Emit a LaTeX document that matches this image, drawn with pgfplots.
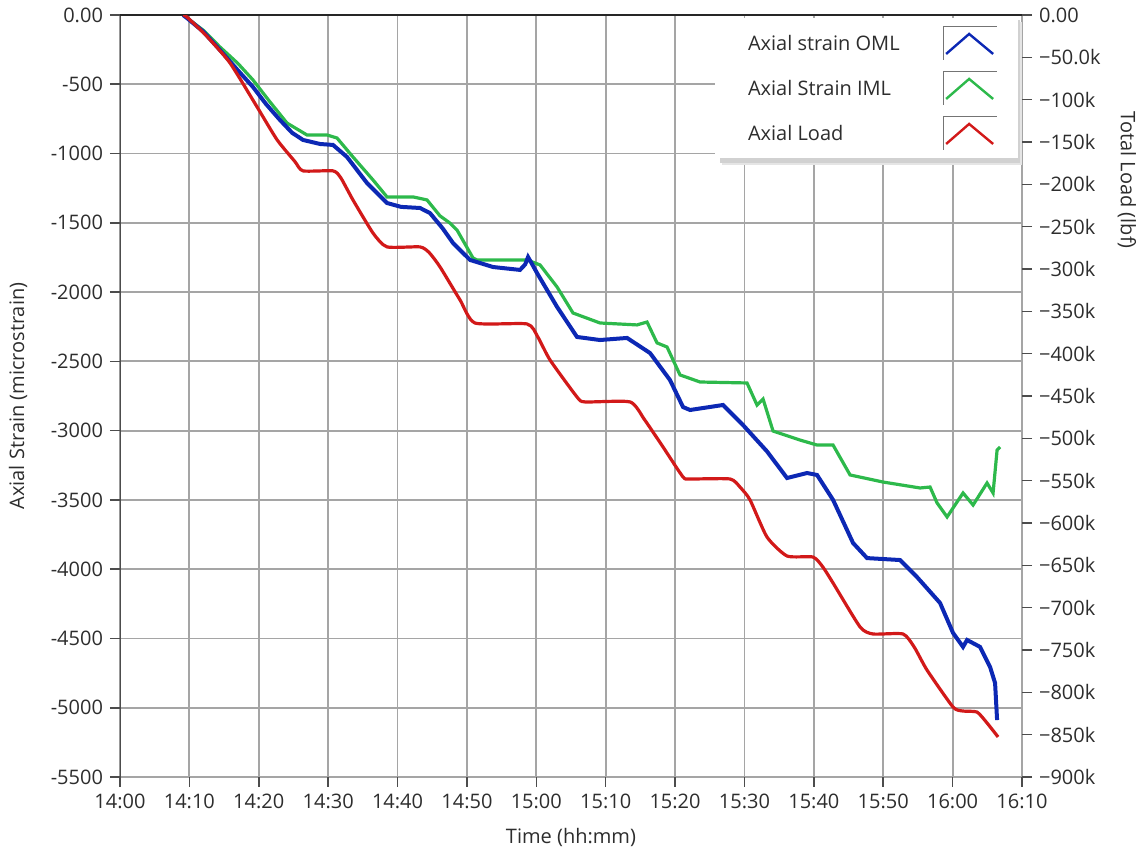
\documentclass[border=0pt]{standalone}
\usepackage{fontspec}
\setmainfont{Open Sans}
\usepackage{pgfplots}
\pgfplotsset{compat=1.18}

\definecolor{cBlue}{RGB}{12,40,180}
\definecolor{cGreen}{RGB}{45,185,75}
\definecolor{cRed}{RGB}{210,25,25}
\definecolor{gridc}{RGB}{165,165,165}
\definecolor{txt}{RGB}{45,45,45}

\pgfplotsset{
  common/.style={
    scale only axis, width=451pt, height=381pt,
    xmin=0, xmax=130,
    tick align=outside, major tick length=5pt,
    tick style={black!70, line width=0.8pt},
    axis line style={draw=none},
    tick label style={font=\fontsize{10}{12}\selectfont, text=txt},
    label style={font=\fontsize{10}{12}\selectfont, text=txt},
    scaled y ticks=false,
  },
  legimg/.style={legend image code/.code={
    \draw[gridc!70!black,line width=0.5pt] (0pt,-8pt) -- (0pt,8.5pt) -- (27pt,8.5pt);
    \draw[##1,line width=1.2pt] (1.5pt,-5pt) -- (13pt,5pt) -- (25pt,-5pt);}}
}

\begin{document}
\begin{tikzpicture}
\begin{axis}[common,
  ymin=-5500, ymax=0,
  tick pos=left,
  xtick={0,10,...,130},
  xticklabels={14:00,14:10,14:20,14:30,14:40,14:50,15:00,15:10,15:20,15:30,15:40,15:50,16:00,16:10},
  ytick={-5500,-5000,...,0},
  yticklabels={-5500,-5000,-4500,-4000,-3500,-3000,-2500,-2000,-1500,-1000,-500,0.00},
  grid=major,
  major grid style={gridc, line width=0.9pt},
  xlabel={Time (hh:mm)},
  xlabel style={at={(axis description cs:0.5,-0.080)}, anchor=center},
  ylabel={Axial Strain (microstrain)},
  ylabel style={at={(axis description cs:-0.113,0.5)}, anchor=center},
]
\coordinate (SW) at (rel axis cs:0,0);
\coordinate (NE) at (rel axis cs:1,1);
\addplot[cGreen, line width=1.6pt] coordinates {
(9.08,0) (12.0,-110) (14.41,-231) (17.0,-350) (19.17,-469) (21.5,-620) (24.07,-780)
(26.95,-866) (29.84,-866) (31.28,-888) (33.58,-1025) (36.47,-1191) (38.48,-1313)
(42.23,-1313) (44.25,-1335) (46.12,-1450) (47.5,-1500) (48.57,-1552) (50.88,-1754)
(51.46,-1768) (58.66,-1768) (60.54,-1804) (62.99,-1963) (65.29,-2151) (69.18,-2223)
(74.51,-2237) (75.96,-2216) (77.40,-2367) (78.84,-2396) (80.71,-2598) (83.60,-2649)
(90.37,-2656) (91.81,-2815) (92.68,-2772) (94.12,-3003) (98.01,-3068) (100.46,-3104)
(102.77,-3104) (105.22,-3320) (109.97,-3371) (115.31,-3414) (116.75,-3407)
(117.76,-3522) (119.20,-3623) (121.50,-3450) (122.95,-3537) (124.96,-3378)
(125.83,-3450) (126.41,-3140) (126.84,-3118)
};
\addplot[cBlue, line width=2pt] coordinates {
(9.08,0) (9.66,-22) (12.0,-120) (14.41,-253) (17.0,-400) (19.17,-520) (21.0,-640)
(23.06,-758) (24.8,-850) (26.38,-902) (28.83,-931) (30.70,-938) (32.72,-1025)
(35.60,-1213) (38.48,-1357) (40.5,-1385) (43.24,-1393) (44.68,-1430) (46.5,-1540)
(48.00,-1646) (50.45,-1768) (53.76,-1819) (57.65,-1840) (58.4,-1800) (58.81,-1747)
(59.3,-1790) (60.10,-1862) (62.99,-2107) (65.87,-2324) (69.18,-2346) (73.08,-2331)
(76.39,-2440) (79.27,-2635) (81.15,-2830) (82.16,-2851) (86.91,-2815) (89.80,-2960)
(93.25,-3150) (96.14,-3342) (99.02,-3306) (100.46,-3320) (102.77,-3500)
(105.65,-3811) (107.67,-3920) (112.42,-3934) (114.87,-4057) (118.19,-4244)
(120.06,-4460) (121.50,-4561) (122.08,-4511) (123.95,-4561) (125.40,-4706)
(126.12,-4822) (126.41,-5089)
};
\draw[black!70, line width=1pt] (rel axis cs:0,0) -- (rel axis cs:0,1);
\draw[black!85, line width=1.5pt] (rel axis cs:0,1) -- (rel axis cs:1,1);
% legend drop shadow
\fill[black!10] (rel axis cs:0.6674,0.8032) rectangle (rel axis cs:0.9995,0.9908);
\fill[black!18] (rel axis cs:0.6652,0.8058) rectangle (rel axis cs:0.9978,0.9930);
\end{axis}

\begin{axis}[common,
  ymin=-900000, ymax=0,
  hide x axis,
  axis y line*=right,
  ytick={-900000,-850000,...,0},
  yticklabels={−900k,−850k,−800k,−750k,−700k,−650k,−600k,−550k,−500k,−450k,−400k,−350k,−300k,−250k,−200k,−150k,−100k,−50.0k,0.00},
  ylabel={Total Load (lbf)},
  ylabel style={at={(axis description cs:1.1164,0.783)}, anchor=center, rotate=180},
  legimg,
  legend plot pos=right,
  legend cell align=left,
  legend style={at={(rel axis cs:0.9956,0.996)}, anchor=north east,
    fill=white, draw=none, font=\fontsize{10}{12}\selectfont, text=txt,
    inner xsep=10pt, inner ysep=4pt, row sep=5.5pt,
    /tikz/column 1/.style={column sep=19.5pt}},
]
\addlegendimage{cBlue}
\addlegendentry{\hspace*{4.5pt}Axial strain OML}
\addlegendimage{cGreen}
\addlegendentry{\hspace*{4.5pt}Axial Strain IML}
\addplot[cRed, line width=1.6pt, smooth, tension=0.35] coordinates {
(9.08,0) (9.66,-2500) (12.5,-25000) (15.85,-56600) (19.75,-108500) (22.63,-147300)
(25.2,-173000) (26.38,-184100) (30.70,-184100) (31.8,-192000) (33.58,-218500)
(36.47,-257600) (38.48,-273900) (43.24,-273900) (44.6,-281000) (46.12,-297500)
(49.01,-336600) (51.17,-363800) (58.66,-364900) (60.2,-380000) (61.98,-407500)
(65.87,-451200) (67.02,-457000) (73.51,-457000) (75.6,-478000) (78.26,-510200)
(81.15,-545700) (82.16,-548000) (87.92,-548000) (89.4,-558000) (90.80,-572700)
(93.25,-616600) (96.14,-639000) (99.88,-640200) (101.3,-652000) (102.77,-670900)
(106.66,-722800) (108.53,-731100) (112.86,-731100) (114.5,-747000) (116.31,-773700)
(120.06,-817400) (121.50,-822100) (123.52,-823300) (124.96,-836200) (126.55,-852700)
};
\addlegendentry{\hspace*{4.5pt}Axial Load}
\end{axis}
\pgfresetboundingbox
\path ([shift={(-60pt,-39pt)}]SW) rectangle ([shift={(62pt,7.5pt)}]NE);
\end{tikzpicture}
\end{document}
